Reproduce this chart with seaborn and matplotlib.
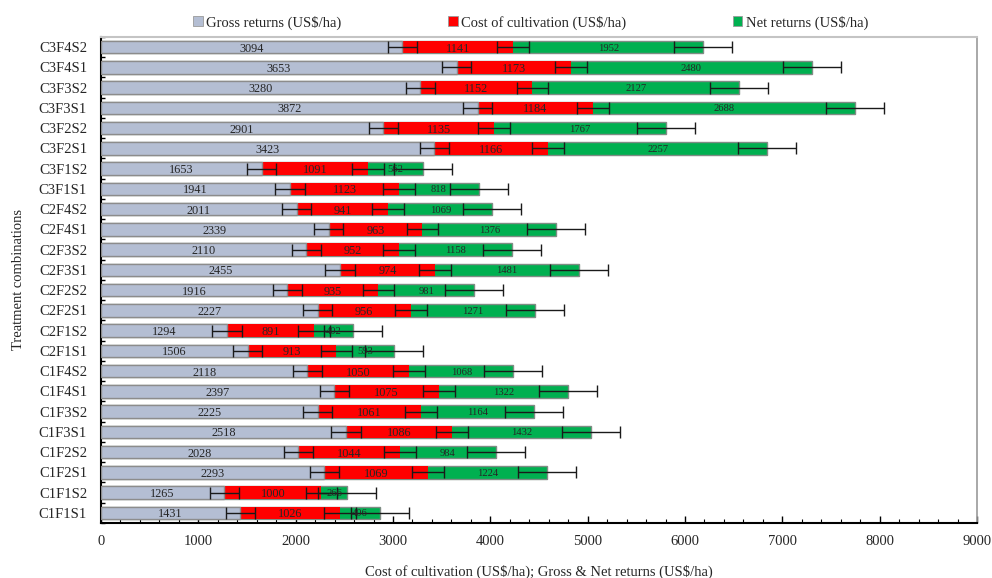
import numpy as np
import pandas as pd
import matplotlib
matplotlib.use("Agg")
import matplotlib.pyplot as plt
import seaborn as sns
from matplotlib.patches import Patch

# Treatment combinations, listed top to bottom
treatments = ["C3F4S2", "C3F4S1", "C3F3S2", "C3F3S1", "C3F2S2", "C3F2S1",
              "C3F1S2", "C3F1S1", "C2F4S2", "C2F4S1", "C2F3S2", "C2F3S1",
              "C2F2S2", "C2F2S1", "C2F1S2", "C2F1S1", "C1F4S2", "C1F4S1",
              "C1F3S2", "C1F3S1", "C1F2S2", "C1F2S1", "C1F1S2", "C1F1S1"]

gross_returns = [3094, 3653, 3280, 3872, 2901, 3423, 1653, 1941, 2011, 2339, 2110, 2455,
                 1916, 2227, 1294, 1506, 2118, 2397, 2225, 2518, 2028, 2293, 1265, 1431]
cost_cultivation = [1141, 1173, 1152, 1184, 1135, 1166, 1091, 1123, 941, 963, 952, 974,
                    935, 956, 891, 913, 1050, 1075, 1061, 1086, 1044, 1069, 1000, 1026]
net_returns = [1952, 2480, 2127, 2688, 1767, 2257, 562, 818, 1069, 1376, 1158, 1481,
               981, 1271, 402, 593, 1068, 1322, 1164, 1432, 984, 1224, 266, 406]

# error bar half-widths for each series
gross_err = [150] * len(treatments)
cost_err = [163] * len(treatments)
net_err = [298] * len(treatments)

series_names = ["Gross returns (US\\$/ha)", "Cost of cultivation (US\\$/ha)",
                "Net returns (US\\$/ha)"]
colors = ["#B4BED3", "#FF0000", "#00B050"]

sns.set_style("ticks")
plt.rcParams["font.family"] = ["Liberation Serif", "DejaVu Serif"]

df = pd.DataFrame({
    "treatment": treatments,
    "gross": gross_returns,
    "cost": cost_cultivation,
    "net": net_returns,
})
df["end_gross"] = df["gross"]
df["end_cost"] = df["gross"] + df["cost"]
df["end_net"] = df["end_cost"] + df["net"]

fig = plt.figure(figsize=(9.92, 5.78), dpi=100)
ax = fig.add_axes([0.1018, 0.0952, 0.8831, 0.8408])

bar_w = 0.62
# stacked segments drawn as overlapping cumulative bars, longest first
sns.barplot(data=df, x="end_net", y="treatment", order=treatments, orient="h",
            color=colors[2], saturation=1, width=bar_w, edgecolor="#7F8C84",
            linewidth=1.0, ax=ax, zorder=2)
sns.barplot(data=df, x="end_cost", y="treatment", order=treatments, orient="h",
            color=colors[1], saturation=1, width=bar_w, linewidth=0,
            ax=ax, zorder=3)
sns.barplot(data=df, x="end_gross", y="treatment", order=treatments, orient="h",
            color=colors[0], saturation=1, width=bar_w, edgecolor="#8C8C8C",
            linewidth=1.0, ax=ax, zorder=4)

ypos = np.arange(len(treatments))
for ends, errs in [(df["end_gross"], gross_err), (df["end_cost"], cost_err),
                   (df["end_net"], net_err)]:
    ax.errorbar(ends, ypos, xerr=errs, fmt="none", ecolor="#1A1A1A",
                elinewidth=1.0, capsize=4.5, capthick=1.0, zorder=6)

# value labels centred in each segment
for i in range(len(treatments)):
    g, c, n = gross_returns[i], cost_cultivation[i], net_returns[i]
    ax.text(g / 2, i, f"{g}", ha="center", va="center_baseline", fontsize=8.8, zorder=7)
    ax.text(g + c / 2, i, f"{c}", ha="center", va="center_baseline", fontsize=8.8, zorder=7)
    ax.text(g + c + n / 2, i, f"{n}", ha="center", va="center_baseline", fontsize=7.6, zorder=7)

ax.set_xlim(0, 9000)
ax.set_ylim(len(treatments) - 0.5, -0.5)
ax.set_xticks(np.arange(0, 9001, 1000))
ax.set_xticks(np.arange(0, 9001, 200), minor=True)
ax.set_yticks(ypos)
ax.set_yticklabels(treatments)
ax.set_yticks(np.arange(-0.5, len(treatments), 1), minor=True)

ax.tick_params(axis="both", which="both", direction="in", color="black")
ax.tick_params(axis="x", which="major", length=5, width=1.0, labelsize=10.5, pad=9)
ax.tick_params(axis="x", which="minor", length=3, width=0.8)
ax.tick_params(axis="y", which="major", length=3, width=1.0, labelsize=10.5, pad=10)
ax.tick_params(axis="y", which="minor", length=3, width=1.0)

ax.set_xlabel("Cost of cultivation (US\\$/ha); Gross & Net returns (US\\$/ha)",
              fontsize=10.5, labelpad=12)
ax.set_ylabel("Treatment combinations", fontsize=10.5, labelpad=10)

for side in ["left", "bottom"]:
    ax.spines[side].set_color("black")
    ax.spines[side].set_linewidth(1.5)
ax.spines["top"].set_color("#C4C4C4")
ax.spines["top"].set_linewidth(1.5)
ax.spines["right"].set_color("#9A9A9A")
ax.spines["right"].set_linewidth(1.2)

handles = [Patch(facecolor=colors[k], edgecolor="#9A9A9A", linewidth=0.6)
           for k in range(3)]
fig.legend(handles, series_names, loc="center", bbox_to_anchor=(0.535, 0.961),
           ncol=3, frameon=False, fontsize=10.5, handlelength=0.65,
           handleheight=0.65, handletextpad=0.25, columnspacing=7.3)

fig.savefig("out.png", dpi=100)
